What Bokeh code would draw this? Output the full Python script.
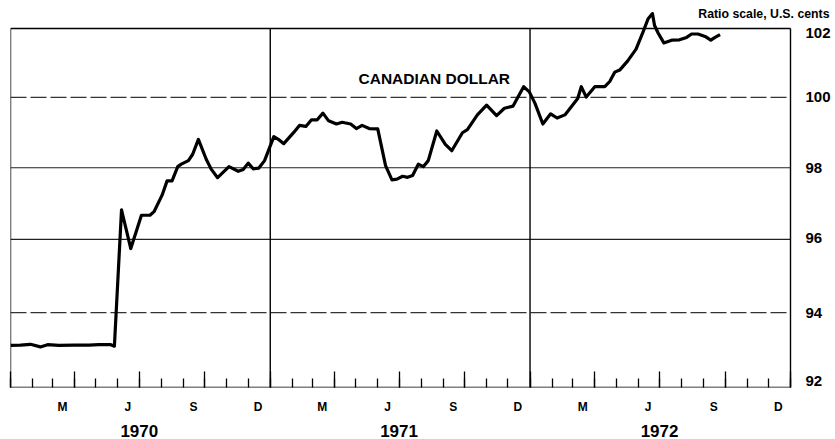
import pandas as pd
from bokeh.plotting import figure
from bokeh.models import (ColumnDataSource, FixedTicker, LinearAxis, Label,
                          CustomJSTickFormatter, Range1d)
from bokeh.core.properties import value
from bokeh.embed import file_html
from bokeh.resources import INLINE

# ---- data ----
dates = [
    "1970-01-01", "1970-01-15", "1970-01-29", "1970-02-12", "1970-02-22", "1970-03-10",
    "1970-04-01", "1970-04-21", "1970-05-05", "1970-05-22", "1970-05-27", "1970-06-06",
    "1970-06-19", "1970-07-04", "1970-07-16", "1970-07-22", "1970-08-02", "1970-08-09",
    "1970-08-16", "1970-08-24", "1970-08-29", "1970-09-08", "1970-09-14", "1970-09-22",
    "1970-10-03", "1970-10-10", "1970-10-19", "1970-11-04", "1970-11-17", "1970-11-24",
    "1970-12-01", "1970-12-08", "1970-12-16", "1970-12-24", "1971-01-06", "1971-01-14",
    "1971-01-20", "1971-02-03", "1971-02-11", "1971-02-20", "1971-02-28", "1971-03-08",
    "1971-03-16", "1971-03-24", "1971-04-04", "1971-04-12", "1971-04-24", "1971-05-02",
    "1971-05-10", "1971-05-20", "1971-06-01", "1971-06-12", "1971-06-21", "1971-06-28",
    "1971-07-06", "1971-07-13", "1971-07-20", "1971-07-28", "1971-08-04", "1971-08-11",
    "1971-08-23", "1971-09-04", "1971-09-13", "1971-09-28", "1971-10-05", "1971-10-19",
    "1971-11-01", "1971-11-15", "1971-11-26", "1971-12-08", "1971-12-23", "1971-12-31",
    "1972-01-08", "1972-01-19", "1972-01-30", "1972-02-08", "1972-02-19", "1972-02-28",
    "1972-03-08", "1972-03-13", "1972-03-20", "1972-04-01", "1972-04-15", "1972-04-22",
    "1972-04-29", "1972-05-06", "1972-05-17", "1972-05-29", "1972-06-08", "1972-06-15",
    "1972-06-21", "1972-06-24", "1972-06-29", "1972-07-07", "1972-07-18", "1972-07-29",
    "1972-08-08", "1972-08-15", "1972-08-24", "1972-09-03", "1972-09-11", "1972-09-17",
    "1972-09-24",
]
cad_usd_cents = [
    93.12, 93.13, 93.15, 93.08, 93.14, 93.12,
    93.13, 93.13, 93.14, 93.14, 93.10, 96.82,
    95.75, 96.67, 96.67, 96.78, 97.23, 97.63,
    97.63, 98.03, 98.10, 98.20, 98.38, 98.80,
    98.24, 97.96, 97.72, 98.03, 97.90, 97.95,
    98.13, 97.97, 97.99, 98.20, 98.88, 98.78,
    98.68, 99.00, 99.20, 99.17, 99.36, 99.36,
    99.55, 99.33, 99.24, 99.29, 99.24, 99.11,
    99.20, 99.11, 99.10, 98.06, 97.66, 97.68,
    97.76, 97.73, 97.78, 98.10, 98.03, 98.20,
    99.04, 98.66, 98.48, 98.99, 99.08, 99.50,
    99.78, 99.48, 99.69, 99.75, 100.31, 100.16,
    99.83, 99.24, 99.53, 99.41, 99.50, 99.73,
    99.97, 100.31, 100.01, 100.31, 100.31, 100.46,
    100.73, 100.79, 101.05, 101.40, 101.91, 102.29,
    102.44, 102.09, 101.87, 101.58, 101.66, 101.67,
    101.74, 101.84, 101.84, 101.77, 101.66, 101.74,
    101.82,
]
y_tick_values = [92, 94, 96, 98, 100, 102]
y_tick_labels = ["92", "94", "96", "98", "100", "102"]
dashed_grid_values = [94, 100]
solid_grid_values = [96, 98]
year_labels = ["1970", "1971", "1972"]
month_letters = {2: "M", 5: "J", 8: "S", 11: "D"}
series_title = "CANADIAN DOLLAR"
scale_note = "Ratio scale, U.S. cents"

FONT = "Liberation Sans"


def ms(s):
    return pd.Timestamp(s).value / 1e6


x_start, x_end = ms("1970-01-01"), ms("1973-01-01")
span_ms = x_end - x_start
CHART_PX = 780            # width of the boxed chart area
FRAME_PX = 823            # frame extends right to hold the ratio-scale labels
px_ms = span_ms / CHART_PX

month_starts = [t.value / 1e6 for t in pd.date_range("1970-01-01", "1973-01-01", freq="MS")]
quarter_starts = [t.value / 1e6 for t in pd.date_range("1970-01-01", "1973-01-01", freq="QS")]
mid_months = [(t + pd.Timedelta(days=14)).value / 1e6
              for t in pd.date_range("1970-01-01", "1972-12-01", freq="MS")
              if (t.month - 1) in month_letters]
mid_years = [ms(f"{y}-07-01") for y in year_labels]

src = ColumnDataSource(data=dict(x=pd.to_datetime(dates), y=cad_usd_cents))

p = figure(frame_width=FRAME_PX, frame_height=379, output_backend="svg", toolbar_location=None,
           x_axis_type="datetime", y_axis_type="log", y_axis_location=None,
           x_range=Range1d(x_start, x_start + FRAME_PX * px_ms), y_range=Range1d(92, 102.59),
           min_border_left=10, min_border_top=8, min_border_right=0, min_border_bottom=0,
           background_fill_color="white", border_fill_color="white")
p.outline_line_color = None
p.xgrid.visible = False
p.ygrid.visible = False

# bottom axis: month tick marks (long at quarters); the line itself drawn as a rule below
xa = p.xaxis[0]
xa.ticker = FixedTicker(ticks=quarter_starts, minor_ticks=month_starts)
xa.formatter = CustomJSTickFormatter(code="return ''")
xa.major_label_text_font_size = "1px"
xa.major_label_standoff = 0
xa.major_tick_in = 16
xa.major_tick_out = 0
xa.minor_tick_in = 9
xa.minor_tick_out = 0
xa.major_tick_line_color = "black"
xa.minor_tick_line_color = "black"
xa.major_tick_line_width = 1.3
xa.minor_tick_line_width = 1.3
xa.axis_line_color = None

# month letters
ma = LinearAxis(ticker=FixedTicker(ticks=mid_months, minor_ticks=[]),
                formatter=CustomJSTickFormatter(
                    args=dict(letters={str(k): v for k, v in month_letters.items()}),
                    code="const m = new Date(tick).getUTCMonth(); return letters[String(m)] || '';"))
ma.axis_line_color = None
ma.major_tick_in = 0
ma.major_tick_out = 0
ma.minor_tick_in = 0
ma.minor_tick_out = 0
ma.major_label_standoff = 12
ma.major_label_text_font = FONT
ma.major_label_text_font_style = "bold"
ma.major_label_text_font_size = "12px"
ma.major_label_text_color = "black"
p.add_layout(ma, "below")

# year labels
ya2 = LinearAxis(ticker=FixedTicker(ticks=mid_years, minor_ticks=[]),
                 formatter=CustomJSTickFormatter(
                     code="return String(new Date(tick).getUTCFullYear());"))
ya2.axis_line_color = None
ya2.major_tick_in = 0
ya2.major_tick_out = 0
ya2.minor_tick_in = 0
ya2.minor_tick_out = 0
ya2.major_label_standoff = 8
ya2.major_label_text_font = FONT
ya2.major_label_text_font_style = "bold"
ya2.major_label_text_font_size = "17px"
ya2.major_label_text_color = "black"
p.add_layout(ya2, "below")

# horizontal rules (only across the boxed chart)
n = len(solid_grid_values)
p.segment(x0=[x_start] * n, x1=[x_end] * n, y0=solid_grid_values, y1=solid_grid_values,
          line_color="#222222", line_width=1.2)
n = len(dashed_grid_values)
p.segment(x0=[x_start] * n, x1=[x_end] * n, y0=dashed_grid_values, y1=dashed_grid_values,
          line_color="#333333", line_width=1.2, line_dash="16 4")
p.segment(x0=[x_start, x_start], x1=[x_end, x_end], y0=[102, 92], y1=[102, 92],
          line_color="black", line_width=1.6)

# vertical frame and year dividers (only between 92 and 102)
vx = [x_start, ms("1971-01-01"), ms("1972-01-01"), x_end]
p.segment(x0=vx, y0=[92] * 4, x1=vx, y1=[102] * 4, line_color="black", line_width=1.4)

# ratio-scale labels at the right of the box
lab_offsets = [-7, 0, -1, 0, 0, 4]
lsrc = ColumnDataSource(data=dict(x=[x_end + 15 * px_ms] * len(y_tick_values),
                                  y=y_tick_values, t=y_tick_labels, off=lab_offsets))
p.text(x="x", y="y", text="t", y_offset="off", source=lsrc, text_font=value(FONT),
       text_font_style="bold", text_font_size="15px", text_color="black",
       text_baseline="middle", text_align="left")

# data line
p.line("x", "y", source=src, line_color="black", line_width=3.2, line_join="round")

p.add_layout(Label(x=ms("1971-05-05"), y=100.55, text=series_title, text_font=FONT,
                   text_font_style="bold", text_font_size="15.5px", text_color="black",
                   text_baseline="middle", text_align="left"))
p.add_layout(Label(x=x_end + 39 * px_ms, y=102.44, text=scale_note, text_font=FONT,
                   text_font_style="bold", text_font_size="12.3px", text_color="black",
                   text_baseline="middle", text_align="right"))

open("out.html", "w").write(file_html(p, INLINE))
